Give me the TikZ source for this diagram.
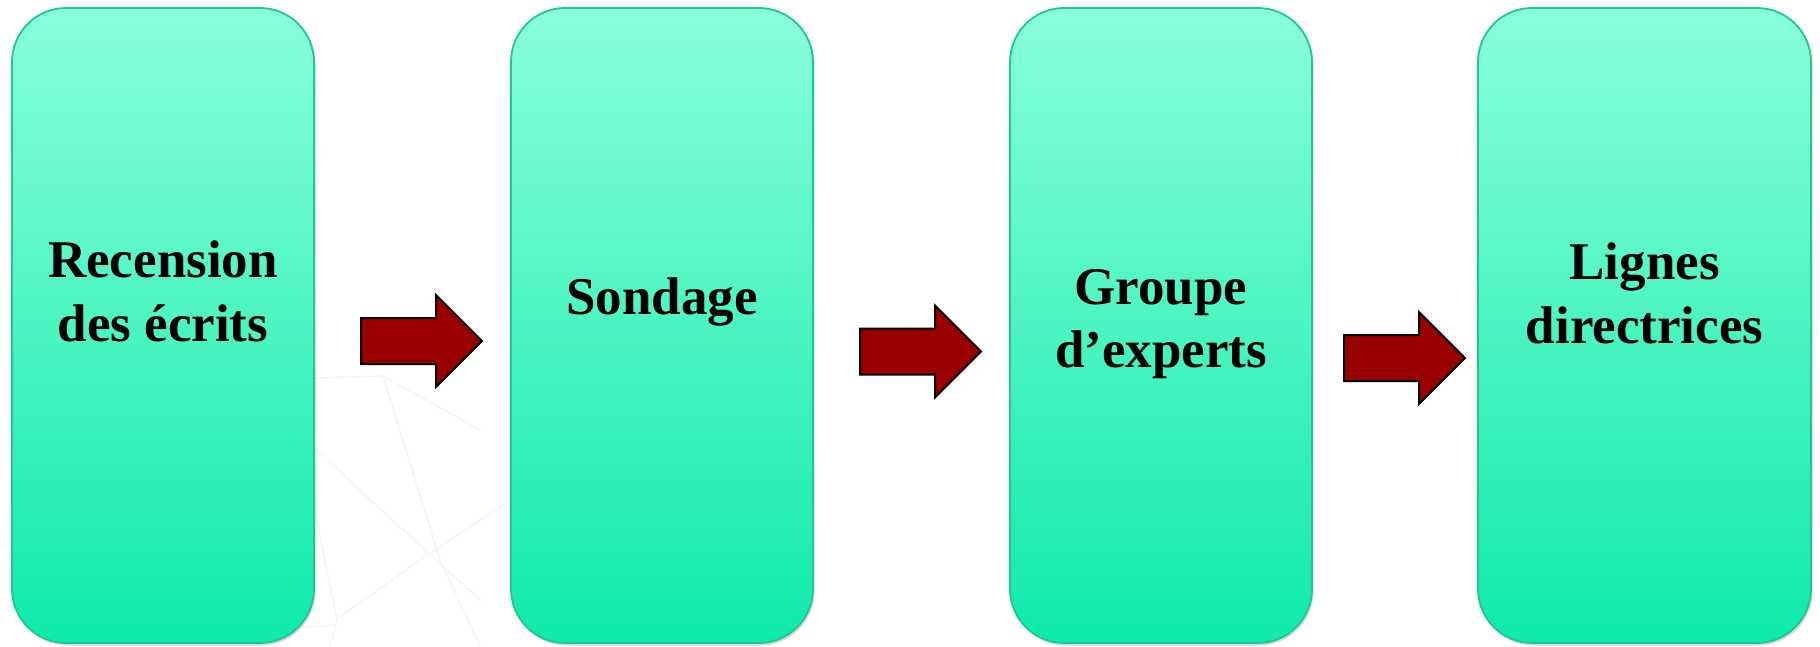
\documentclass[tikz,border=0pt]{standalone}
\usepackage{fontspec}
\setmainfont{Liberation Serif}
\usetikzlibrary{shapes.arrows,shadows}
\definecolor{boxtop}{RGB}{138,255,218}
\definecolor{boxbot}{RGB}{14,234,170}
\definecolor{boxline}{RGB}{28,200,150}
\definecolor{arrowred}{RGB}{153,0,0}
\definecolor{wm}{RGB}{244,243,242}
\tikzset{
  stepbox/.style={rectangle, rounded corners=54pt, draw=boxline, line width=1.8pt,
    top color=boxtop, bottom color=boxbot, minimum height=635pt, inner sep=0pt,
    drop shadow={shadow xshift=1.5pt, shadow yshift=-2.5pt, opacity=0.25, fill=black!60}},
  lbl/.style={anchor=base, inner sep=0pt, font=\bfseries\fontsize{53}{65}\selectfont},
  blockarrow/.style={single arrow, fill=arrowred, draw=black, line width=2pt,
    inner sep=22pt, single arrow head extend=23pt, minimum height=121pt,
    single arrow tip angle=90, anchor=west},
  wmline/.style={draw=wm, line width=1.2pt}
}
\begin{document}
\begin{tikzpicture}[x=1pt,y=-1pt]
\useasboundingbox (0,0) rectangle (1820,646);
\fill[white] (0,0) rectangle (1820,646);
% faint watermark lines
\path[wmline] (250,380) -- (383,376) -- (480,430);
\path[wmline] (383,376) -- (440,560) -- (480,646);
\path[wmline] (300,440) -- (337,619) -- (330,646);
\path[wmline] (313,446) -- (380,509) -- (480,600);
\path[wmline] (337,619) -- (420,560) -- (511,500);
\path[wmline] (337,625) -- (230,632);
\path[wmline] (0,540) -- (60,600);
% boxes
\node[stepbox, minimum width=302pt] (b1) at (163,325.5) {};
\node[stepbox, minimum width=302pt] (b2) at (662,325.5) {};
\node[stepbox, minimum width=302pt] (b3) at (1161,325.5) {};
\node[stepbox, minimum width=333pt] (b4) at (1644.5,325.5) {};
% labels
\node[lbl] (t1a) at (163,277) {Recension};
\node[lbl] (t1b) at (163,341) {des écrits};
\node[lbl] (t2) at (662,314) {Sondage};
\node[lbl] (t3a) at (1161,304) {Groupe};
\node[lbl] (t3b) at (1161,367) {d’experts};
\node[lbl] (t4a) at (1644.5,279) {Lignes};
\node[lbl] (t4b) at (1644.5,343) {directrices};
% arrows
\node[blockarrow] (a1) at (360,341) {};
\node[blockarrow] (a2) at (859,351.5) {};
\node[blockarrow] (a3) at (1343,358) {};
\end{tikzpicture}
\end{document}
